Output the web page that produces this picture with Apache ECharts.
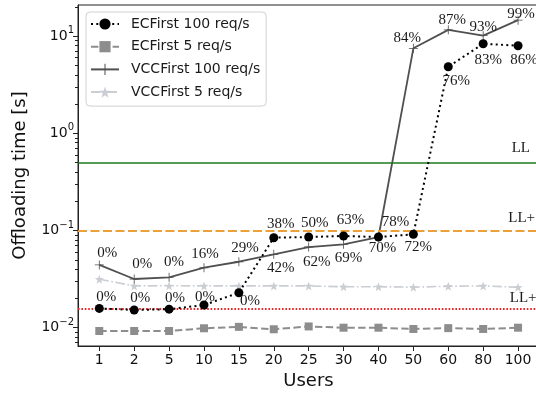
<!DOCTYPE html>
<html>
<head>
<meta charset="utf-8">
<script src="https://cdn.jsdelivr.net/npm/echarts@6/dist/echarts.min.js"></script>
<style>
  html, body { margin: 0; padding: 0; background: #fff; }
  #chart { width: 536px; height: 394px; }
</style>
</head>
<body>
<div id="chart"></div>
<script>
// Number of users on the x axis
const users = ['1', '2', '5', '10', '15', '20', '25', '30', '40', '50', '60', '80', '100'];

// Offloading time in seconds
const ecFirst100 = [0.0158, 0.0152, 0.0155, 0.0171, 0.0229, 0.0843, 0.0857, 0.0878, 0.0857, 0.0914, 4.84, 8.35, 7.96];
const ecFirst5 = [0.00925, 0.00925, 0.00925, 0.00986, 0.0102, 0.00963, 0.0103, 0.0100, 0.0100, 0.0097, 0.0099, 0.0097, 0.0100];
const vccFirst100 = [0.0442, 0.0317, 0.0330, 0.0414, 0.0477, 0.0569, 0.0676, 0.0721, 0.0857, 7.49, 11.6, 10.1, 14.6];
const vccFirst5 = [0.0315, 0.0269, 0.0270, 0.0269, 0.0269, 0.0269, 0.0269, 0.0264, 0.0264, 0.0261, 0.0267, 0.0269, 0.0261];

// Share of requests (%) annotated next to the 100 req/s points
const ecFirst100Share = [0, 0, 0, 0, 0, 38, 50, 63, 70, 72, 76, 83, 86];
const vccFirst100Share = [0, 0, 0, 16, 29, 42, 62, 69, 78, 84, 87, 93, 99];

// Latency limits (s)
const limitNames = ['LL', 'LL+', 'LL++'];
const limitValues = [0.5, 0.1, 0.0158];

// Axis ticks
const yMajorTicks = [0.01, 0.1, 1, 10];
const yTickExponents = ['−2', '−1', '0', '1'];

// Annotation placement (pixel offsets from each marker)
const ecLabelOffsets = [[7,-11],[6,-12],[6,-11],[1,-8],[11,8],[7,-14],[6,-14],[7,-16],[4,11],[5,13],[8,14],[5,16],[6,14]];
const vccLabelOffsets = [[8,-12],[8,-15],[5,-15],[1,-14],[6,-14],[7,14],[8,15],[5,14],[17,-15],[-6,-10],[4,-10],[0,-9],[3,-6]];
const limitLabelDistances = [[9, 7], [4, 5], [-6, 3]];

const yMinorTicks = [];
[0.001, 0.01, 0.1, 1, 10].forEach(function (d) {
  for (let k = 2; k <= 9; k++) yMinorTicks.push(+(k * d).toPrecision(3));
});

const serif = 'Liberation Serif';
const sans = 'DejaVu Sans';
const yMin = 0.00648, yMax = 20.9;
const idx = users.map(function (_, i) { return i; });

function pointsOf(values, shares, offsets) {
  return values.map(function (v, i) {
    const item = { value: [i, v] };
    if (shares) {
      item.label = { show: true, offset: offsets[i], formatter: shares[i] + '%' };
    }
    return item;
  });
}

const annotation = {
  show: true,
  position: 'inside',
  align: 'center',
  verticalAlign: 'middle',
  fontFamily: serif,
  fontSize: 15,
  color: '#1a1a1a'
};

const plusPath = 'path://M-0.09,-1H0.09V-0.09H1V0.09H0.09V1H-0.09V0.09H-1V-0.09H-0.09Z';
const starPath = 'path://M0,-10L2.35,-3.24L9.51,-3.09L3.8,1.24L5.88,8.09L0,4L-5.88,8.09L-3.8,1.24L-9.51,-3.09L-2.35,-3.24Z';

const limitStyles = [
  { color: '#1d7a1d', width: 1.6, type: 'solid' },
  { color: '#eba03a', width: 1.8, type: [9, 3.5] },
  { color: '#ee2424', width: 2, type: [1.6, 1.8] }
];

const chart = echarts.init(document.getElementById('chart'), null, { renderer: 'canvas' });

chart.setOption({
  animation: false,
  backgroundColor: '#fff',
  grid: {
    left: 78, right: -3, top: 5, bottom: 48,
    outerBoundsMode: 'none', containLabel: false,
    show: true, borderColor: '#222', borderWidth: 1, backgroundColor: 'transparent'
  },
  legend: {
    data: ['ECFirst 100 req/s', 'ECFirst 5 req/s', 'VCCFirst 100 req/s', 'VCCFirst 5 req/s'],
    orient: 'vertical',
    left: 86, top: 12,
    padding: [5, 6, 7, 4],
    itemWidth: 28, itemHeight: 14, itemGap: 8.7,
    backgroundColor: 'rgba(255,255,255,0.85)',
    borderColor: '#d0d0d0', borderWidth: 1, borderRadius: 4,
    textStyle: { fontFamily: sans, fontSize: 14, color: '#1a1a1a', padding: [0, 0, 0, 7] }
  },
  xAxis: {
    type: 'value', min: -0.61, max: 12.6,
    name: 'Users', nameLocation: 'middle', nameGap: 25,
    nameTextStyle: { fontFamily: sans, fontSize: 18, color: '#111' },
    axisLine: { show: true, onZero: false, lineStyle: { color: '#222', width: 1 } },
    axisTick: { show: true, length: 5, customValues: idx, lineStyle: { color: '#222' } },
    axisLabel: {
      customValues: idx, margin: 7, fontFamily: sans, fontSize: 14, color: '#111',
      formatter: function (v) { return users[Math.round(v)]; }
    },
    splitLine: { show: false }
  },
  yAxis: [{
    type: 'log', logBase: 10, min: yMin, max: yMax,
    name: 'Offloading time [s]', nameLocation: 'middle', nameGap: 49,
    nameTextStyle: { fontFamily: sans, fontSize: 18, color: '#111' },
    axisLine: { show: true, onZero: false, lineStyle: { color: '#222', width: 1 } },
    axisTick: { show: true, length: 5, customValues: yMajorTicks, lineStyle: { color: '#222' } },
    axisLabel: {
      customValues: yMajorTicks, margin: 4, color: '#111',
      formatter: function (v) {
        const i = yMajorTicks.findIndex(function (t) { return Math.abs(Math.log10(t) - Math.log10(v)) < 1e-6; });
        return i < 0 ? '' : '{b|10}{s|' + yTickExponents[i] + '}';
      },
      rich: {
        b: { fontFamily: sans, fontSize: 14, color: '#111' },
        s: { fontFamily: sans, fontSize: 10, color: '#111', padding: [0, 0, 11, 0] }
      }
    },
    splitLine: { show: false }
  }, {
    type: 'log', logBase: 10, min: yMin, max: yMax, position: 'left',
    axisLine: { show: false, onZero: false },
    axisTick: { show: true, length: 3, customValues: yMinorTicks, lineStyle: { color: '#222' } },
    axisLabel: { show: false },
    splitLine: { show: false }
  }],
  series: [{
    name: 'limits', type: 'line', data: [], z: 1, silent: true,
    markLine: {
      silent: true, symbol: 'none', animation: false, precision: 5,
      data: limitValues.map(function (v, i) {
        return {
          name: limitNames[i], yAxis: v,
          lineStyle: limitStyles[i],
          label: {
            show: true, formatter: '{b}', position: 'insideEndTop',
            distance: limitLabelDistances[i],
            fontFamily: serif, fontSize: 15, color: '#1a1a1a'
          }
        };
      })
    }
  }, {
    name: 'ECFirst 5 req/s', type: 'line', z: 3,
    data: pointsOf(ecFirst5),
    symbol: 'rect', symbolSize: 8,
    itemStyle: { color: '#8d8d8d' },
    lineStyle: { color: '#8d8d8d', width: 2, type: [7.4, 3.4] }
  }, {
    name: 'VCCFirst 5 req/s', type: 'line', z: 3,
    data: pointsOf(vccFirst5),
    symbol: starPath, symbolSize: 9,
    itemStyle: { color: '#cacdd1' },
    lineStyle: { color: '#cacdd1', width: 1.6, type: [9.6, 2.6, 1.6, 2.6] }
  }, {
    name: 'VCCFirst 100 req/s', type: 'line', z: 4,
    data: pointsOf(vccFirst100, vccFirst100Share, vccLabelOffsets),
    symbol: plusPath, symbolSize: 9,
    itemStyle: { color: '#505050' },
    lineStyle: { color: '#505050', width: 1.8 },
    label: annotation
  }, {
    name: 'ECFirst 100 req/s', type: 'line', z: 5,
    data: pointsOf(ecFirst100, ecFirst100Share, ecLabelOffsets),
    symbol: 'circle', symbolSize: 9,
    itemStyle: { color: '#000' },
    lineStyle: { color: '#000', width: 2, type: [2, 3.3] },
    label: annotation
  }]
});
</script>
</body>
</html>
